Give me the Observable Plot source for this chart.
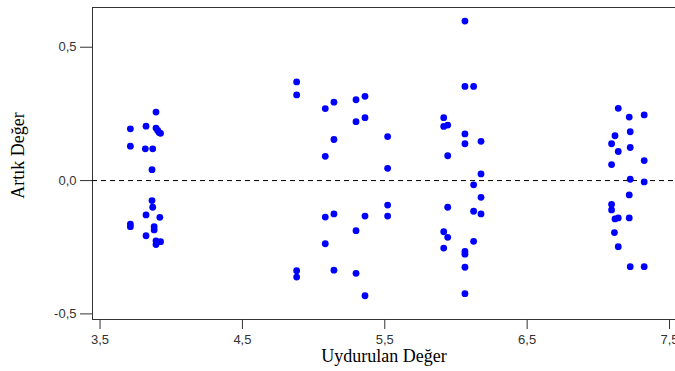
<!DOCTYPE html>
<html><head><meta charset="utf-8">
<script src="https://cdn.jsdelivr.net/npm/d3@7"></script>
<script src="https://cdn.jsdelivr.net/npm/@observablehq/plot@0.6"></script>
<style>body{margin:0;background:#fff}</style>
</head><body><div id="chart"></div>
<script>
const fitted = [
  3.893,3.713,3.823,3.893,3.905,3.915,3.925,3.713,3.818,3.870,3.865,3.865,3.870,3.823,3.920,3.713,3.713,3.880,3.880,3.823,3.893,3.925,3.893,
  4.881,4.881,5.082,5.143,5.298,5.361,5.298,5.361,5.143,5.082,5.520,5.520,5.520,5.520,5.082,5.143,5.361,5.298,5.082,4.881,4.881,5.143,5.298,5.361,
  6.063,6.063,6.124,5.914,5.914,5.942,6.063,6.063,6.176,5.942,6.176,6.124,6.176,5.942,6.124,6.176,5.914,5.942,6.124,5.914,6.063,6.063,6.063,6.063,
  7.140,7.217,7.322,7.224,7.117,7.093,7.140,7.224,7.322,7.093,7.224,7.322,7.217,7.093,7.093,7.117,7.140,7.217,7.113,7.140,7.224,7.322
];
const residual = [
  0.257,0.194,0.204,0.197,0.188,0.180,0.177,0.129,0.119,0.119,0.041,-0.075,-0.100,-0.129,-0.138,-0.163,-0.173,-0.173,-0.185,-0.207,-0.226,-0.229,-0.240,
  0.370,0.321,0.270,0.294,0.303,0.316,0.221,0.236,0.154,0.091,0.165,0.046,-0.092,-0.133,-0.137,-0.125,-0.133,-0.188,-0.237,-0.338,-0.362,-0.336,-0.348,-0.432,
  0.598,0.353,0.353,0.236,0.203,0.208,0.175,0.138,0.147,0.093,0.025,-0.016,-0.063,-0.100,-0.115,-0.125,-0.192,-0.213,-0.228,-0.253,-0.266,-0.276,-0.325,-0.424,
  0.271,0.238,0.246,0.183,0.168,0.138,0.109,0.124,0.075,0.060,0.005,-0.005,-0.054,-0.089,-0.110,-0.144,-0.140,-0.140,-0.195,-0.248,-0.323,-0.323
];
const xTicks = [3.5, 4.5, 5.5, 6.5, 7.5];
const yTicks = [-0.5, 0, 0.5];
const xDomain = [3.447, 7.542];
const yDomain = [-0.521, 0.649];
const xLabel = ["Uydurulan Değer"];
const yLabel = ["Artık Değer"];

const points = fitted.map((x, i) => ({x, y: residual[i]}));
const fmt = d => d.toFixed(1).replace(".", ",");
const serif = "'Liberation Serif', 'Times New Roman', serif";

const chart = Plot.plot({
  width: 675, height: 371,
  marginLeft: 92, marginRight: 0, marginTop: 7, marginBottom: 52,
  style: {background: "#fff", color: "#333", fontFamily: "'Liberation Sans', Arial, sans-serif"},
  x: {domain: xDomain},
  y: {domain: yDomain},
  marks: [
    Plot.ruleY(yDomain, {stroke: "#333"}),
    Plot.ruleX([xDomain[0]], {stroke: "#333"}),
    Plot.ruleY([0], {stroke: "#000", strokeDasharray: "5,4"}),
    Plot.dot(points, {x: "x", y: "y", r: 3.4, fill: "#0000ff"}),
    Plot.axisX({ticks: xTicks, tickFormat: fmt, tickSize: 10, tickPadding: 5, fontSize: 13, label: null}),
    Plot.axisY({ticks: yTicks, tickFormat: fmt, tickSize: 12, tickPadding: 4, fontSize: 13, label: null}),
    Plot.text(xLabel, {frameAnchor: "bottom", dy: 37, lineAnchor: "middle", textAnchor: "middle", text: d => d, fontFamily: serif, fontSize: 18, fill: "#000"}),
    Plot.text(yLabel, {frameAnchor: "left", dx: -74, dy: -8, textAnchor: "middle", lineAnchor: "middle", rotate: -90, text: d => d, fontFamily: serif, fontSize: 18, fill: "#000"})
  ]
});
document.getElementById("chart").appendChild(chart);
</script>
</body></html>
